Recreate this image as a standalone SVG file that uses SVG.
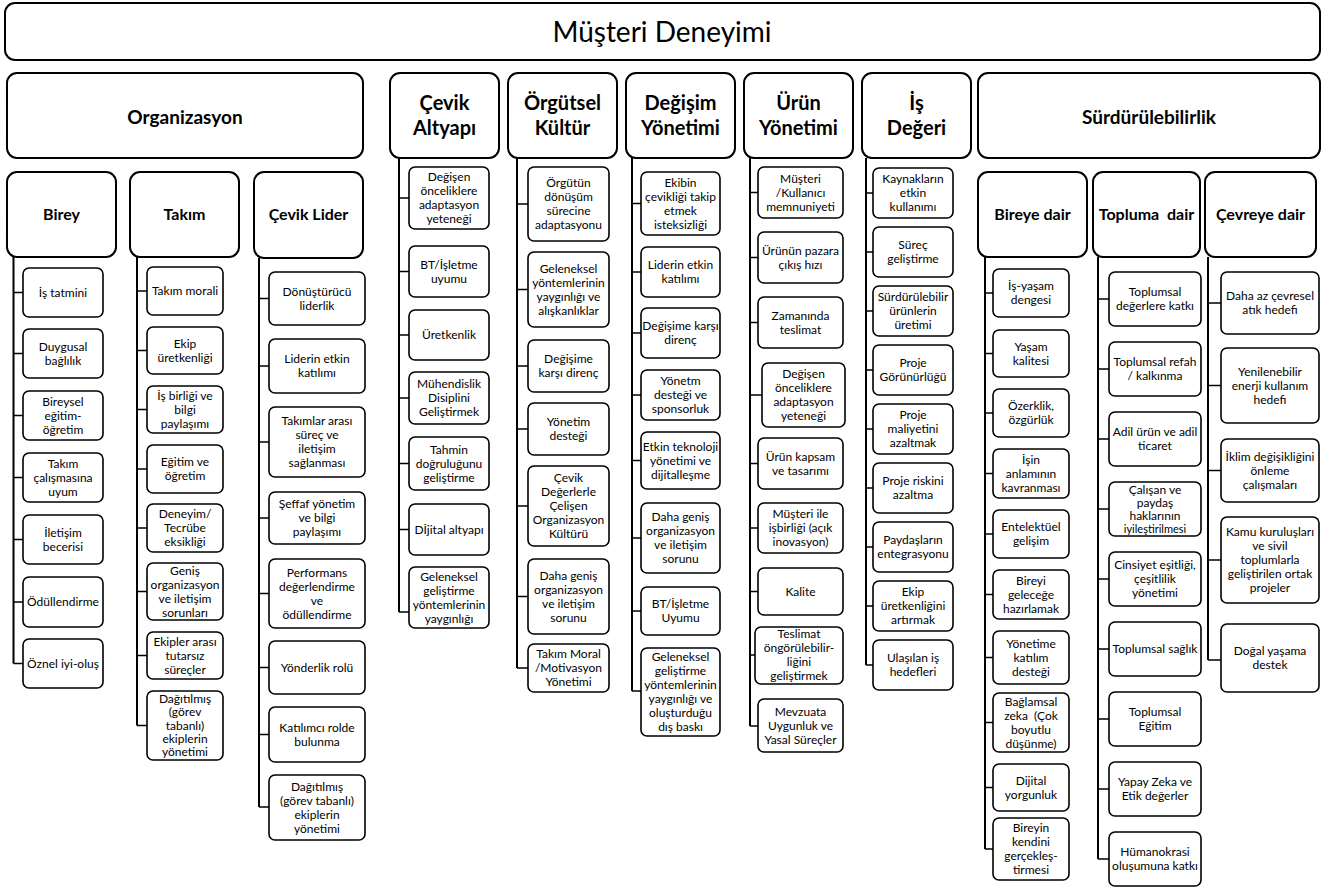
<svg xmlns="http://www.w3.org/2000/svg" width="1328" height="893" viewBox="0 0 1328 893">
<style>
.hd{fill:#fff;stroke:#000;stroke-width:2}
.bx{fill:#fff;stroke:#000;stroke-width:1.6}
.t{font-family:Lato,"Liberation Sans",sans-serif;font-size:12px;text-anchor:middle;fill:#000}
.h{font-family:Lato,"Liberation Sans",sans-serif;font-weight:bold;font-size:20px;text-anchor:middle;fill:#000}
.s{font-family:Lato,"Liberation Sans",sans-serif;font-weight:bold;font-size:16px;text-anchor:middle;fill:#000}
.ti{font-family:Lato,"Liberation Sans",sans-serif;font-size:28px;text-anchor:middle;fill:#000}
.ln{stroke:#000;stroke-width:2;fill:none}
.tk{stroke:#000;stroke-width:1.5;fill:none}
</style>
<rect width="1328" height="893" fill="#fff"/>
<g id="connectors">
<path class="ln" d="M13.5 257V663.5M137 257V725.5M259 258V807M399 158V612M517 158V668M632 158V691M750 158V726M866 158V665M985 257V849M1098 257V859M1208 257V660"/>
<path class="tk" d="M13.5 292.5H23M13.5 353.5H23M13.5 415.5H23M13.5 477.5H23M13.5 539.5H23M13.5 602H23M13.5 663.5H23"/>
<path class="tk" d="M137 291H147M137 350.5H147M137 409.5H147M137 469H147M137 528H147M137 591.5H147M137 655.5H147M137 725.5H147"/>
<path class="tk" d="M259 298.5H269M259 366H269M259 442H269M259 518H269M259 593.5H269M259 667.5H269M259 734.5H269M259 807H269"/>
<path class="tk" d="M399 198H409M399 271.5H409M399 335H409M399 398H409M399 463.5H409M399 529.5H409M399 612H409"/>
<path class="tk" d="M517 204H528M517 289.5H528M517 366H528M517 429H528M517 506H528M517 596.5H528M517 668H528"/>
<path class="tk" d="M632 203.5H641M632 272H641M632 333H641M632 395H641M632 460.5H641M632 538H641M632 611H641M632 691H641"/>
<path class="tk" d="M750 192.5H758M750 257.5H758M750 322.5H758M750 395H762M750 463.5H758M750 528H758M750 591.5H758M750 655H755M750 726H758"/>
<path class="tk" d="M866 193H873M866 252H873M866 311H873M866 370H873M866 429H873M866 488H873M866 547H873M866 606H873M866 665H873"/>
<path class="tk" d="M985 293H993M985 353.5H993M985 413H993M985 473.5H993M985 534H993M985 594.5H993M985 657.5H993M985 722.5H993M985 787.5H993M985 849H993"/>
<path class="tk" d="M1098 299H1109M1098 369H1109M1098 439H1109M1098 509H1109M1098 579H1109M1098 649H1109M1098 719H1109M1098 789H1109M1098 859H1109"/>
<path class="tk" d="M1208 303H1221M1208 385.5H1221M1208 470.5H1221M1208 560H1221M1208 660H1221"/>
</g>
<g id="title"><rect class="hd" x="5" y="3" width="1315" height="57" rx="10"/><text class="ti" x="662" y="42">Müşteri Deneyimi</text></g>
<g id="organizasyon"><rect class="hd" x="7" y="73" width="356" height="85" rx="10"/><text class="h" x="185" y="124" style="font-size:19px">Organizasyon</text></g>
<g id="cevik-altyapi"><rect class="hd" x="390" y="73" width="109" height="85" rx="10"/><text class="h"><tspan x="444.5" y="110">Çevik</tspan><tspan x="444.5" y="135">Altyapı</tspan></text></g>
<g id="orgutsel-kultur"><rect class="hd" x="508" y="73" width="109" height="85" rx="10"/><text class="h"><tspan x="562.5" y="110">Örgütsel</tspan><tspan x="562.5" y="135">Kültür</tspan></text></g>
<g id="degisim-yonetimi"><rect class="hd" x="626" y="73" width="109" height="85" rx="10"/><text class="h"><tspan x="680.5" y="110">Değişim</tspan><tspan x="680.5" y="135">Yönetimi</tspan></text></g>
<g id="urun-yonetimi"><rect class="hd" x="744" y="73" width="109" height="85" rx="10"/><text class="h"><tspan x="798.5" y="110">Ürün</tspan><tspan x="798.5" y="135">Yönetimi</tspan></text></g>
<g id="is-degeri"><rect class="hd" x="862" y="73" width="109" height="85" rx="10"/><text class="h"><tspan x="916.5" y="110">İş</tspan><tspan x="916.5" y="135">Değeri</tspan></text></g>
<g id="surdurulebilirlik"><rect class="hd" x="978" y="73" width="342" height="85" rx="10"/><text class="h" x="1149" y="124" style="font-size:19px">Sürdürülebilirlik</text></g>
<g id="birey"><rect class="hd" x="7" y="172" width="109" height="85" rx="10"/><text class="s" x="61.5" y="220">Birey</text></g>
<g id="takim"><rect class="hd" x="130" y="172" width="109" height="85" rx="10"/><text class="s" x="184.5" y="220">Takım</text></g>
<g id="cevik-lider"><rect class="hd" x="254" y="172" width="109" height="86" rx="10"/><text class="s" x="308.5" y="220">Çevik Lider</text></g>
<g id="bireye-dair"><rect class="hd" x="978" y="172" width="109" height="85" rx="10"/><text class="s" x="1032.5" y="220">Bireye dair</text></g>
<g id="topluma-dair"><rect class="hd" x="1093" y="172" width="107" height="85" rx="10"/><text class="s" x="1146.5" y="220" xml:space="preserve">Topluma  dair</text></g>
<g id="cevreye-dair"><rect class="hd" x="1205" y="172" width="111" height="85" rx="10"/><text class="s" x="1260.5" y="220">Çevreye dair</text></g>

<g id="birey-1"><rect class="bx" x="23" y="268" width="80" height="49" rx="6"/><text class="t" x="63" y="296.5">İş tatmini</text></g>
<g id="birey-2"><rect class="bx" x="23" y="329" width="80" height="49" rx="6"/><text class="t"><tspan x="63" y="350.5">Duygusal</tspan><tspan x="63" y="364.5">bağlılık</tspan></text></g>
<g id="birey-3"><rect class="bx" x="23" y="391" width="80" height="49" rx="6"/><text class="t"><tspan x="63" y="405.5">Bireysel</tspan><tspan x="63" y="419.5">eğitim-</tspan><tspan x="63" y="433.5">öğretim</tspan></text></g>
<g id="birey-4"><rect class="bx" x="23" y="453" width="80" height="49" rx="6"/><text class="t"><tspan x="63" y="467.5">Takım</tspan><tspan x="63" y="481.5">çalışmasına</tspan><tspan x="63" y="495.5">uyum</tspan></text></g>
<g id="birey-5"><rect class="bx" x="23" y="515" width="80" height="49" rx="6"/><text class="t"><tspan x="63" y="536.5">İletişim</tspan><tspan x="63" y="550.5">becerisi</tspan></text></g>
<g id="birey-6"><rect class="bx" x="23" y="577" width="80" height="50" rx="6"/><text class="t" x="63" y="606">Ödüllendirme</text></g>
<g id="birey-7"><rect class="bx" x="23" y="639" width="80" height="49" rx="6"/><text class="t" x="63" y="667.5">Öznel iyi-oluş</text></g>

<g id="takim-1"><rect class="bx" x="147" y="267" width="76" height="48" rx="6"/><text class="t" x="185" y="295">Takım morali</text></g>
<g id="takim-2"><rect class="bx" x="147" y="327" width="76" height="47" rx="6"/><text class="t"><tspan x="185" y="347.5">Ekip</tspan><tspan x="185" y="361.5">üretkenliği</tspan></text></g>
<g id="takim-3"><rect class="bx" x="147" y="386" width="76" height="47" rx="6"/><text class="t"><tspan x="185" y="399.5">İş birliği ve</tspan><tspan x="185" y="413.5">bilgi</tspan><tspan x="185" y="427.5">paylaşımı</tspan></text></g>
<g id="takim-4"><rect class="bx" x="147" y="445" width="76" height="48" rx="6"/><text class="t"><tspan x="185" y="466">Eğitim ve</tspan><tspan x="185" y="480">öğretim</tspan></text></g>
<g id="takim-5"><rect class="bx" x="147" y="504" width="76" height="48" rx="6"/><text class="t"><tspan x="185" y="518">Deneyim/</tspan><tspan x="185" y="532">Tecrübe</tspan><tspan x="185" y="546">eksikliği</tspan></text></g>
<g id="takim-6"><rect class="bx" x="147" y="563" width="76" height="57" rx="6"/><text class="t"><tspan x="185" y="574.5">Geniş</tspan><tspan x="185" y="588.5">organizasyon</tspan><tspan x="185" y="602.5">ve iletişim</tspan><tspan x="185" y="616.5">sorunları</tspan></text></g>
<g id="takim-7"><rect class="bx" x="147" y="632" width="76" height="47" rx="6"/><text class="t"><tspan x="185" y="645.5">Ekipler arası</tspan><tspan x="185" y="659.5">tutarsız</tspan><tspan x="185" y="673.5">süreçler</tspan></text></g>
<g id="takim-8"><rect class="bx" x="147" y="691" width="76" height="69" rx="6"/><text class="t"><tspan x="185" y="702.9">Dağıtılmış</tspan><tspan x="185" y="716.2">(görev</tspan><tspan x="185" y="729.5">tabanlı)</tspan><tspan x="185" y="742.8">ekiplerin</tspan><tspan x="185" y="756.1">yönetimi</tspan></text></g>

<g id="lider-1"><rect class="bx" x="269" y="272" width="96" height="53" rx="6"/><text class="t"><tspan x="317" y="295.5">Dönüştürücü</tspan><tspan x="317" y="309.5">liderlik</tspan></text></g>
<g id="lider-2"><rect class="bx" x="269" y="339" width="96" height="54" rx="6"/><text class="t"><tspan x="317" y="363">Liderin etkin</tspan><tspan x="317" y="377">katılımı</tspan></text></g>
<g id="lider-3"><rect class="bx" x="269" y="407" width="96" height="70" rx="6"/><text class="t"><tspan x="317" y="425">Takımlar arası</tspan><tspan x="317" y="439">süreç ve</tspan><tspan x="317" y="453">iletişim</tspan><tspan x="317" y="467">sağlanması</tspan></text></g>
<g id="lider-4"><rect class="bx" x="269" y="492" width="96" height="52" rx="6"/><text class="t"><tspan x="317" y="508">Şeffaf yönetim</tspan><tspan x="317" y="522">ve bilgi</tspan><tspan x="317" y="536">paylaşımı</tspan></text></g>
<g id="lider-5"><rect class="bx" x="269" y="559" width="96" height="69" rx="6"/><text class="t"><tspan x="317" y="576.5">Performans</tspan><tspan x="317" y="590.5">değerlendirme</tspan><tspan x="317" y="604.5">ve</tspan><tspan x="317" y="618.5">ödüllendirme</tspan></text></g>
<g id="lider-6"><rect class="bx" x="269" y="641" width="96" height="53" rx="6"/><text class="t" x="317" y="671.5">Yönderlik rolü</text></g>
<g id="lider-7"><rect class="bx" x="269" y="707" width="96" height="55" rx="6"/><text class="t"><tspan x="317" y="731.5">Katılımcı rolde</tspan><tspan x="317" y="745.5">bulunma</tspan></text></g>
<g id="lider-8"><rect class="bx" x="269" y="775" width="96" height="65" rx="6"/><text class="t"><tspan x="317" y="790.5">Dağıtılmış</tspan><tspan x="317" y="804.5">(görev tabanlı)</tspan><tspan x="317" y="818.5">ekiplerin</tspan><tspan x="317" y="832.5">yönetimi</tspan></text></g>

<g id="altyapi-1"><rect class="bx" x="409" y="167" width="80" height="62" rx="6"/><text class="t"><tspan x="449" y="181">Değişen</tspan><tspan x="449" y="195">önceliklere</tspan><tspan x="449" y="209">adaptasyon</tspan><tspan x="449" y="223">yeteneği</tspan></text></g>
<g id="altyapi-2"><rect class="bx" x="409" y="246" width="80" height="51" rx="6"/><text class="t"><tspan x="449" y="268.5">BT/İşletme</tspan><tspan x="449" y="282.5">uyumu</tspan></text></g>
<g id="altyapi-3"><rect class="bx" x="409" y="310" width="80" height="50" rx="6"/><text class="t" x="449" y="339">Üretkenlik</text></g>
<g id="altyapi-4"><rect class="bx" x="409" y="372" width="80" height="52" rx="6"/><text class="t"><tspan x="449" y="388">Mühendislik</tspan><tspan x="449" y="402">Disiplini</tspan><tspan x="449" y="416">Geliştirmek</tspan></text></g>
<g id="altyapi-5"><rect class="bx" x="409" y="437" width="80" height="53" rx="6"/><text class="t"><tspan x="449" y="453.5">Tahmin</tspan><tspan x="449" y="467.5">doğruluğunu</tspan><tspan x="449" y="481.5">geliştirme</tspan></text></g>
<g id="altyapi-6"><rect class="bx" x="409" y="504" width="80" height="51" rx="6"/><text class="t" x="449" y="533.5">Dİjital altyapı</text></g>
<g id="altyapi-7"><rect class="bx" x="409" y="567" width="80" height="61" rx="6"/><text class="t"><tspan x="449" y="580.5">Geleneksel</tspan><tspan x="449" y="594.5">geliştirme</tspan><tspan x="449" y="608.5">yöntemlerinin</tspan><tspan x="449" y="622.5">yaygınlığı</tspan></text></g>

<g id="kultur-1"><rect class="bx" x="528" y="167" width="81" height="74" rx="6"/><text class="t"><tspan x="568.5" y="187">Örgütün</tspan><tspan x="568.5" y="201">dönüşüm</tspan><tspan x="568.5" y="215">sürecine</tspan><tspan x="568.5" y="229">adaptasyonu</tspan></text></g>
<g id="kultur-2"><rect class="bx" x="528" y="252" width="81" height="75" rx="6"/><text class="t"><tspan x="568.5" y="272.5">Geleneksel</tspan><tspan x="568.5" y="286.5">yöntemlerinin</tspan><tspan x="568.5" y="300.5">yaygınlığı ve</tspan><tspan x="568.5" y="314.5">alışkanlıklar</tspan></text></g>
<g id="kultur-3"><rect class="bx" x="528" y="340" width="81" height="52" rx="6"/><text class="t"><tspan x="568.5" y="363">Değişime</tspan><tspan x="568.5" y="377">karşı direnç</tspan></text></g>
<g id="kultur-4"><rect class="bx" x="528" y="403" width="81" height="52" rx="6"/><text class="t"><tspan x="568.5" y="426">Yönetim</tspan><tspan x="568.5" y="440">desteği</tspan></text></g>
<g id="kultur-5"><rect class="bx" x="528" y="466" width="81" height="80" rx="6"/><text class="t"><tspan x="568.5" y="482">Çevik</tspan><tspan x="568.5" y="496">Değerlerle</tspan><tspan x="568.5" y="510">Çelişen</tspan><tspan x="568.5" y="524">Organizasyon</tspan><tspan x="568.5" y="538">Kültürü</tspan></text></g>
<g id="kultur-6"><rect class="bx" x="528" y="559" width="81" height="75" rx="6"/><text class="t"><tspan x="568.5" y="579.5">Daha geniş</tspan><tspan x="568.5" y="593.5">organizasyon</tspan><tspan x="568.5" y="607.5">ve iletişim</tspan><tspan x="568.5" y="621.5">sorunu</tspan></text></g>
<g id="kultur-7"><rect class="bx" x="528" y="644" width="81" height="48" rx="6"/><text class="t"><tspan x="568.5" y="658">Takım Moral</tspan><tspan x="568.5" y="672">/Motivasyon</tspan><tspan x="568.5" y="686">Yönetimi</tspan></text></g>

<g id="degisim-1"><rect class="bx" x="641" y="172" width="79" height="63" rx="6"/><text class="t"><tspan x="680.5" y="186.5">Ekibin</tspan><tspan x="680.5" y="200.5">çevikliği takip</tspan><tspan x="680.5" y="214.5">etmek</tspan><tspan x="680.5" y="228.5">isteksizliği</tspan></text></g>
<g id="degisim-2"><rect class="bx" x="641" y="247" width="79" height="50" rx="6"/><text class="t"><tspan x="680.5" y="269">Liderin etkin</tspan><tspan x="680.5" y="283">katılımı</tspan></text></g>
<g id="degisim-3"><rect class="bx" x="641" y="308" width="79" height="50" rx="6"/><text class="t"><tspan x="680.5" y="330">Değişime karşı</tspan><tspan x="680.5" y="344">direnç</tspan></text></g>
<g id="degisim-4"><rect class="bx" x="641" y="370" width="79" height="50" rx="6"/><text class="t"><tspan x="680.5" y="385">Yönetm</tspan><tspan x="680.5" y="399">desteği ve</tspan><tspan x="680.5" y="413">sponsorluk</tspan></text></g>
<g id="degisim-5"><rect class="bx" x="641" y="432" width="79" height="57" rx="6"/><text class="t"><tspan x="680.5" y="450.5">Etkin teknoloji</tspan><tspan x="680.5" y="464.5">yönetimi ve</tspan><tspan x="680.5" y="478.5">dijitalleşme</tspan></text></g>
<g id="degisim-6"><rect class="bx" x="641" y="503" width="79" height="70" rx="6"/><text class="t"><tspan x="680.5" y="521">Daha geniş</tspan><tspan x="680.5" y="535">organizasyon</tspan><tspan x="680.5" y="549">ve iletişim</tspan><tspan x="680.5" y="563">sorunu</tspan></text></g>
<g id="degisim-7"><rect class="bx" x="641" y="587" width="79" height="48" rx="6"/><text class="t"><tspan x="680.5" y="608">BT/İşletme</tspan><tspan x="680.5" y="622">Uyumu</tspan></text></g>
<g id="degisim-8"><rect class="bx" x="641" y="648" width="79" height="88" rx="6"/><text class="t"><tspan x="680.5" y="661">Geleneksel</tspan><tspan x="680.5" y="675">geliştirme</tspan><tspan x="680.5" y="689">yöntemlerinin</tspan><tspan x="680.5" y="703">yaygınlığı ve</tspan><tspan x="680.5" y="717">oluşturduğu</tspan><tspan x="680.5" y="731">dış baskı</tspan></text></g>

<g id="urun-1"><rect class="bx" x="758" y="167" width="85" height="51" rx="6"/><text class="t"><tspan x="800.5" y="182.5">Müşteri</tspan><tspan x="800.5" y="196.5">/Kullanıcı</tspan><tspan x="800.5" y="210.5">memnuniyeti</tspan></text></g>
<g id="urun-2"><rect class="bx" x="758" y="232" width="85" height="51" rx="6"/><text class="t"><tspan x="800.5" y="254.5">Ürünün pazara</tspan><tspan x="800.5" y="268.5">çıkış hızı</tspan></text></g>
<g id="urun-3"><rect class="bx" x="758" y="297" width="85" height="51" rx="6"/><text class="t"><tspan x="800.5" y="319.5">Zamanında</tspan><tspan x="800.5" y="333.5">teslimat</tspan></text></g>
<g id="urun-4"><rect class="bx" x="762" y="363" width="83" height="64" rx="6"/><text class="t"><tspan x="803.5" y="378">Değişen</tspan><tspan x="803.5" y="392">önceliklere</tspan><tspan x="803.5" y="406">adaptasyon</tspan><tspan x="803.5" y="420">yeteneği</tspan></text></g>
<g id="urun-5"><rect class="bx" x="758" y="438" width="85" height="51" rx="6"/><text class="t"><tspan x="800.5" y="460.5">Ürün kapsam</tspan><tspan x="800.5" y="474.5">ve tasarımı</tspan></text></g>
<g id="urun-6"><rect class="bx" x="758" y="503" width="85" height="50" rx="6"/><text class="t"><tspan x="800.5" y="518">Müşteri ile</tspan><tspan x="800.5" y="532">işbirliği (açık</tspan><tspan x="800.5" y="546">inovasyon)</tspan></text></g>
<g id="urun-7"><rect class="bx" x="758" y="568" width="85" height="47" rx="6"/><text class="t" x="800.5" y="595.5">Kalite</text></g>
<g id="urun-8"><rect class="bx" x="755" y="627" width="88" height="57" rx="6"/><text class="t"><tspan x="799" y="638">Teslimat</tspan><tspan x="799" y="652">öngörülebilir-</tspan><tspan x="799" y="666">liğini</tspan><tspan x="799" y="680">geliştirmek</tspan></text></g>
<g id="urun-9"><rect class="bx" x="758" y="699" width="85" height="53" rx="6"/><text class="t"><tspan x="800.5" y="715.5">Mevzuata</tspan><tspan x="800.5" y="729.5">Uygunluk ve</tspan><tspan x="800.5" y="743.5">Yasal Süreçler</tspan></text></g>

<g id="deger-1"><rect class="bx" x="873" y="168" width="80" height="50" rx="6"/><text class="t"><tspan x="913" y="183">Kaynakların</tspan><tspan x="913" y="197">etkin</tspan><tspan x="913" y="211">kullanımı</tspan></text></g>
<g id="deger-2"><rect class="bx" x="873" y="227" width="80" height="50" rx="6"/><text class="t"><tspan x="913" y="249">Süreç</tspan><tspan x="913" y="263">geliştirme</tspan></text></g>
<g id="deger-3"><rect class="bx" x="873" y="286" width="80" height="50" rx="6"/><text class="t"><tspan x="913" y="301">Sürdürülebilir</tspan><tspan x="913" y="315">ürünlerin</tspan><tspan x="913" y="329">üretimi</tspan></text></g>
<g id="deger-4"><rect class="bx" x="873" y="345" width="80" height="50" rx="6"/><text class="t"><tspan x="913" y="367">Proje</tspan><tspan x="913" y="381">Görünürlüğü</tspan></text></g>
<g id="deger-5"><rect class="bx" x="873" y="404" width="80" height="50" rx="6"/><text class="t"><tspan x="913" y="419">Proje</tspan><tspan x="913" y="433">maliyetini</tspan><tspan x="913" y="447">azaltmak</tspan></text></g>
<g id="deger-6"><rect class="bx" x="873" y="463" width="80" height="50" rx="6"/><text class="t"><tspan x="913" y="485">Proje riskini</tspan><tspan x="913" y="499">azaltma</tspan></text></g>
<g id="deger-7"><rect class="bx" x="873" y="522" width="80" height="50" rx="6"/><text class="t"><tspan x="913" y="544">Paydaşların</tspan><tspan x="913" y="558">entegrasyonu</tspan></text></g>
<g id="deger-8"><rect class="bx" x="873" y="581" width="80" height="50" rx="6"/><text class="t"><tspan x="913" y="596">Ekip</tspan><tspan x="913" y="610">üretkenliğini</tspan><tspan x="913" y="624">artırmak</tspan></text></g>
<g id="deger-9"><rect class="bx" x="873" y="640" width="80" height="50" rx="6"/><text class="t"><tspan x="913" y="662">Ulaşılan iş</tspan><tspan x="913" y="676">hedefleri</tspan></text></g>

<g id="bireye-1"><rect class="bx" x="993" y="269" width="76" height="48" rx="6"/><text class="t"><tspan x="1031" y="290">İş-yaşam</tspan><tspan x="1031" y="304">dengesi</tspan></text></g>
<g id="bireye-2"><rect class="bx" x="993" y="330" width="76" height="47" rx="6"/><text class="t"><tspan x="1031" y="350.5">Yaşam</tspan><tspan x="1031" y="364.5">kalitesi</tspan></text></g>
<g id="bireye-3"><rect class="bx" x="993" y="389" width="76" height="48" rx="6"/><text class="t"><tspan x="1031" y="410">Özerklik,</tspan><tspan x="1031" y="424">özgürlük</tspan></text></g>
<g id="bireye-4"><rect class="bx" x="993" y="449" width="76" height="49" rx="6"/><text class="t"><tspan x="1031" y="463.5">İşin</tspan><tspan x="1031" y="477.5">anlamının</tspan><tspan x="1031" y="491.5">kavranması</tspan></text></g>
<g id="bireye-5"><rect class="bx" x="993" y="510" width="76" height="48" rx="6"/><text class="t"><tspan x="1031" y="531">Entelektüel</tspan><tspan x="1031" y="545">gelişim</tspan></text></g>
<g id="bireye-6"><rect class="bx" x="993" y="570" width="76" height="49" rx="6"/><text class="t"><tspan x="1031" y="584.5">Bireyi</tspan><tspan x="1031" y="598.5">geleceğe</tspan><tspan x="1031" y="612.5">hazırlamak</tspan></text></g>
<g id="bireye-7"><rect class="bx" x="993" y="631" width="76" height="53" rx="6"/><text class="t"><tspan x="1031" y="647.5">Yönetime</tspan><tspan x="1031" y="661.5">katılım</tspan><tspan x="1031" y="675.5">desteği</tspan></text></g>
<g id="bireye-8"><rect class="bx" x="993" y="693" width="76" height="59" rx="6"/><text class="t" xml:space="preserve"><tspan x="1031" y="705.5">Bağlamsal</tspan><tspan x="1031" y="719.5">zeka  (Çok</tspan><tspan x="1031" y="733.5">boyutlu</tspan><tspan x="1031" y="747.5">düşünme)</tspan></text></g>
<g id="bireye-9"><rect class="bx" x="993" y="764" width="76" height="47" rx="6"/><text class="t"><tspan x="1031" y="784.5">Dijital</tspan><tspan x="1031" y="798.5">yorgunluk</tspan></text></g>
<g id="bireye-10"><rect class="bx" x="993" y="818" width="76" height="62" rx="6"/><text class="t"><tspan x="1031" y="832">Bireyin</tspan><tspan x="1031" y="846">kendini</tspan><tspan x="1031" y="860">gerçekleş-</tspan><tspan x="1031" y="874">tirmesi</tspan></text></g>

<g id="topluma-1"><rect class="bx" x="1109" y="272" width="92" height="54" rx="6"/><text class="t"><tspan x="1155" y="296">Toplumsal</tspan><tspan x="1155" y="310">değerlere katkı</tspan></text></g>
<g id="topluma-2"><rect class="bx" x="1109" y="342" width="92" height="54" rx="6"/><text class="t"><tspan x="1155" y="366">Toplumsal refah</tspan><tspan x="1155" y="380">/ kalkınma</tspan></text></g>
<g id="topluma-3"><rect class="bx" x="1109" y="412" width="92" height="54" rx="6"/><text class="t"><tspan x="1155" y="436">Adil ürün ve adil</tspan><tspan x="1155" y="450">ticaret</tspan></text></g>
<g id="topluma-4"><rect class="bx" x="1109" y="482" width="92" height="54" rx="6"/><text class="t"><tspan x="1155" y="493.5">Çalışan ve</tspan><tspan x="1155" y="506.5">paydaş</tspan><tspan x="1155" y="519.5">haklarının</tspan><tspan x="1155" y="532.5" style="font-size:11px">iyileştirilmesi</tspan></text></g>
<g id="topluma-5"><rect class="bx" x="1109" y="552" width="92" height="54" rx="6"/><text class="t"><tspan x="1155" y="569">Cinsiyet eşitliği,</tspan><tspan x="1155" y="583">çeşitlilik</tspan><tspan x="1155" y="597">yönetimi</tspan></text></g>
<g id="topluma-6"><rect class="bx" x="1109" y="622" width="92" height="54" rx="6"/><text class="t" x="1155" y="653">Toplumsal sağlık</text></g>
<g id="topluma-7"><rect class="bx" x="1109" y="692" width="92" height="54" rx="6"/><text class="t"><tspan x="1155" y="716">Toplumsal</tspan><tspan x="1155" y="730">Eğitim</tspan></text></g>
<g id="topluma-8"><rect class="bx" x="1109" y="762" width="92" height="54" rx="6"/><text class="t"><tspan x="1155" y="786">Yapay Zeka ve</tspan><tspan x="1155" y="800">Etik değerler</tspan></text></g>
<g id="topluma-9"><rect class="bx" x="1109" y="832" width="92" height="54" rx="6"/><text class="t"><tspan x="1155" y="856">Hümanokrasi</tspan><tspan x="1155" y="870">oluşumuna katkı</tspan></text></g>

<g id="cevreye-1"><rect class="bx" x="1221" y="272" width="98" height="62" rx="6"/><text class="t"><tspan x="1270" y="300">Daha az çevresel</tspan><tspan x="1270" y="314">atık hedefi</tspan></text></g>
<g id="cevreye-2"><rect class="bx" x="1221" y="348" width="98" height="75" rx="6"/><text class="t"><tspan x="1270" y="375.5">Yenilenebilir</tspan><tspan x="1270" y="389.5">enerji kullanım</tspan><tspan x="1270" y="403.5">hedefi</tspan></text></g>
<g id="cevreye-3"><rect class="bx" x="1221" y="439" width="98" height="63" rx="6"/><text class="t"><tspan x="1270" y="460.5">İklim değişikliğini</tspan><tspan x="1270" y="474.5">önleme</tspan><tspan x="1270" y="488.5">çalışmaları</tspan></text></g>
<g id="cevreye-4"><rect class="bx" x="1221" y="517" width="98" height="86" rx="6"/><text class="t"><tspan x="1270" y="536">Kamu kuruluşları</tspan><tspan x="1270" y="550">ve sivil</tspan><tspan x="1270" y="564">toplumlarla</tspan><tspan x="1270" y="578">geliştirilen ortak</tspan><tspan x="1270" y="592">projeler</tspan></text></g>
<g id="cevreye-5"><rect class="bx" x="1221" y="624" width="98" height="68" rx="6"/><text class="t"><tspan x="1270" y="655">Doğal yaşama</tspan><tspan x="1270" y="669">destek</tspan></text></g>
</svg>
